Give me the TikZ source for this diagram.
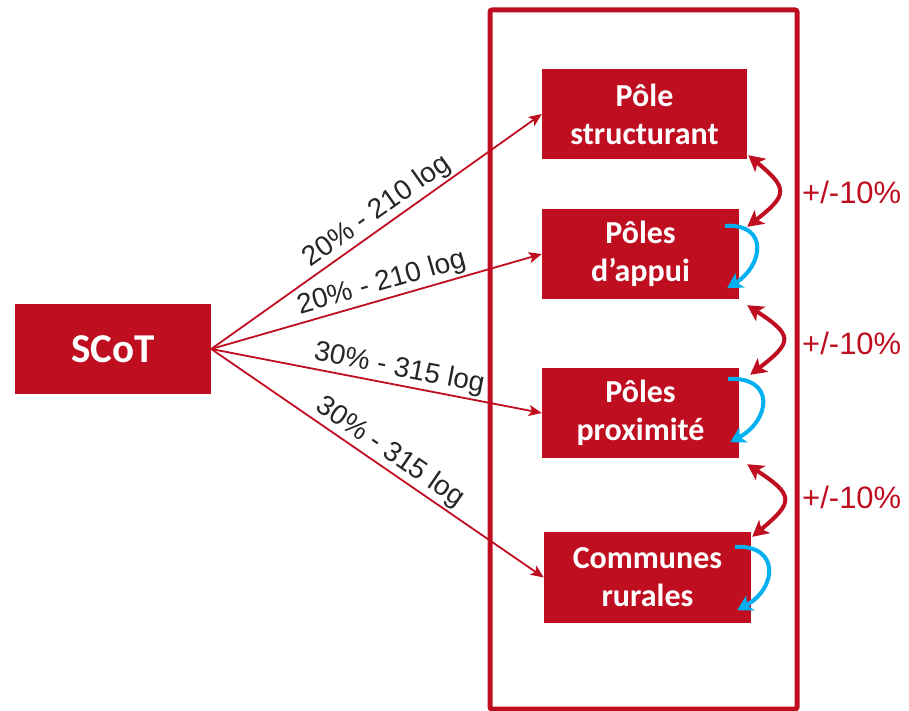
\documentclass[tikz,border=0pt]{standalone}
\usepackage{fontspec}
\setmainfont{Liberation Sans}
\newfontfamily\calibrifont{Carlito}
\usetikzlibrary{arrows.meta,calc}
\definecolor{rouge}{RGB}{192,14,33}
\definecolor{bleu}{RGB}{0,176,240}
\definecolor{texte}{RGB}{38,38,38}
\begin{document}
\begin{tikzpicture}[x=1pt,y=-1pt,
  box/.style={fill=rouge, text=white, font=\calibrifont\bfseries\fontsize{32}{38}\selectfont, align=center, inner sep=0pt, minimum height=90pt},
  link/.style={draw=rouge, line width=1.8pt, -{Stealth[length=13pt,width=11pt,inset=3pt]}},
  lab/.style={font=\fontsize{28}{30}\selectfont, text=texte, sloped, above, inner sep=2pt},
  dbl/.style={draw=rouge, line width=4pt, {Stealth[length=16pt,width=17pt,inset=4pt]}-{Stealth[length=16pt,width=17pt,inset=4pt]}},
  cyc/.style={draw=bleu, line width=4pt, -{Stealth[length=15pt,width=17pt,inset=4pt]}},
  pct/.style={font=\fontsize{31}{34}\selectfont, text=rouge, anchor=west, inner sep=0pt}]
\useasboundingbox (0,0) rectangle (909,711);
\node[draw=rouge, line width=5pt, rounded corners=2pt, minimum width=307pt, minimum height=699pt, inner sep=0pt] (frame) at (643.5,359.5) {};
\node[box, minimum width=196pt, font=\calibrifont\bfseries\fontsize{41}{48}\selectfont] (s) at (113,349) {SCoT};
\node[box, minimum width=205pt] (b1) at (644.5,114) {Pôle\\structurant};
\node[box, minimum width=197pt] (b2) at (640.5,254) {Pôles\\d’appui};
\node[box, minimum width=197pt] (b3) at (640.5,413) {Pôles\\proximité};
\node[box, minimum width=207pt, minimum height=91pt] (b4) at (647.5,577.5) {Communes\\rurales};
\draw[link] (s.east) -- node[lab, pos=0.53] {20\% - 210 log} (b1.west);
\draw[link] (s.east) -- node[lab, pos=0.53] {20\% - 210 log} (b2.west);
\draw[link] (s.east) -- node[lab, pos=0.56] {30\% - 315 log} (b3.west);
\draw[link] (s.east) -- node[lab, pos=0.51] {30\% - 315 log} (b4.west);
\draw[dbl] ($(b1.south east)+(1,-4)$) .. controls +(40,33) and +(41,-32) .. ($(b2.north east)+(8,18)$);
\draw[dbl] ($(b2.south east)+(8,6)$) .. controls +(46,30) and +(43,-33) .. ($(b3.north east)+(11,7)$);
\draw[dbl] ($(b3.south east)+(8,6)$) .. controls +(47,31) and +(42,-35) .. ($(b4.north east)+(1,5)$);
\draw[cyc] ($(b2.north east)+(-14,17)$) .. controls +(45,-2) and +(35,-22) .. ($(b2.south east)+(-12,-11)$);
\draw[cyc] ($(b3.north east)+(-11,11)$) .. controls +(48,-2) and +(40,-22) .. ($(b3.south east)+(-9,-16)$);
\draw[cyc] ($(b4.north east)+(-16,15)$) .. controls +(45,-2) and +(40,-22) .. ($(b4.south east)+(-14,-13)$);
\node[pct] (p1) at (802,192) {+/-10\%};
\node[pct] (p2) at (802,343) {+/-10\%};
\node[pct] (p3) at (802,497) {+/-10\%};
\end{tikzpicture}
\end{document}
